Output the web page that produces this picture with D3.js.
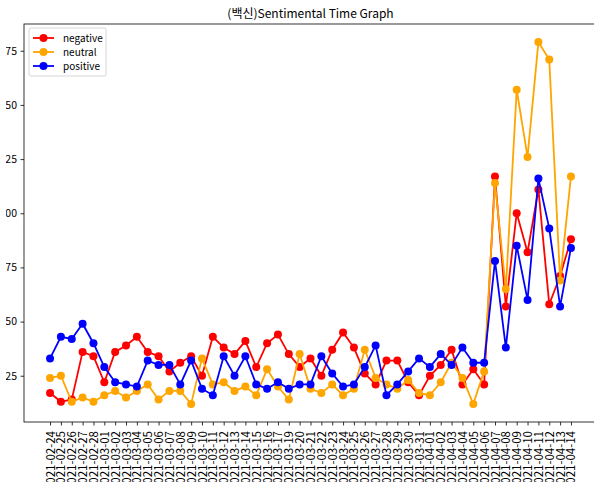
<!DOCTYPE html>
<html>
<head>
    <meta charset="utf-8">
    <title>sentimental_time_graph</title>
    <script src="https://d3js.org/d3.v7.min.js"></script>
    <style>
        body { margin: 0; background: #fff; }
        text { font-family: "Noto Sans CJK KR", "Noto Sans", sans-serif; fill: #000; }
    </style>
</head>
<body>
    <svg width="594" height="482"></svg>
    <script>
        // Dates on the x axis (03-18 is missing in the source)
        var dates = [
            "2021-02-24", "2021-02-25", "2021-02-26", "2021-02-27", "2021-02-28",
            "2021-03-01", "2021-03-02", "2021-03-03", "2021-03-04", "2021-03-05",
            "2021-03-06", "2021-03-07", "2021-03-08", "2021-03-09", "2021-03-10",
            "2021-03-11", "2021-03-12", "2021-03-13", "2021-03-14", "2021-03-15",
            "2021-03-16", "2021-03-17", "2021-03-19", "2021-03-20", "2021-03-21",
            "2021-03-22", "2021-03-23", "2021-03-24", "2021-03-25", "2021-03-26",
            "2021-03-27", "2021-03-28", "2021-03-29", "2021-03-30", "2021-03-31",
            "2021-04-01", "2021-04-02", "2021-04-03", "2021-04-04", "2021-04-05",
            "2021-04-06", "2021-04-07", "2021-04-08", "2021-04-09", "2021-04-10",
            "2021-04-11", "2021-04-12", "2021-04-13", "2021-04-14"
        ];

        // Counts per sentiment
        var negative = [17, 13, 14, 36, 34, 22, 36, 39, 43, 36, 34, 27, 31, 34, 25, 43, 38, 35, 41, 29,
                        40, 44, 35, 29, 33, 25, 37, 45, 38, 26, 21, 32, 32, 22, 16, 25, 30, 37, 21, 28,
                        21, 117, 57, 100, 82, 111, 58, 71, 88];
        var neutral = [24, 25, 13, 15, 13, 16, 18, 15, 18, 21, 14, 18, 18, 12, 33, 21, 22, 18, 20, 16,
                       28, 20, 14, 35, 19, 17, 21, 16, 19, 37, 24, 21, 19, 23, 17, 16, 22, 31, 24, 12,
                       27, 114, 65, 157, 126, 179, 171, 69, 117];
        var positive = [33, 43, 42, 49, 40, 29, 22, 21, 20, 32, 30, 30, 21, 32, 19, 16, 34, 25, 34, 21,
                        19, 22, 19, 21, 21, 34, 26, 20, 21, 29, 39, 16, 21, 27, 33, 29, 35, 30, 38, 31,
                        31, 78, 38, 85, 60, 116, 93, 57, 84];

        var yTicks = [25, 50, 75, 100, 125, 150, 175];
        var title = "(백신)Sentimental Time Graph";

        var series = [
            { name: "negative", values: negative, color: "red" },
            { name: "neutral", values: neutral, color: "orange" },
            { name: "positive", values: positive, color: "blue" }
        ];

        // Plot area (the source image is cropped on the left, right and bottom)
        var margin = { left: 24, top: 24, right: 597, bottom: 422 };

        var svg = d3.select("svg");

        // matplotlib-like 5% padding on both axes
        var n = dates.length - 1;
        var x = d3.scaleLinear()
            .domain([-0.05 * n, n + 0.05 * n])
            .range([margin.left, margin.right]);

        var all = negative.concat(neutral, positive);
        var yMin = d3.min(all), yMax = d3.max(all);
        var pad = (yMax - yMin) * 0.05;
        var y = d3.scaleLinear()
            .domain([yMin - pad, yMax + pad])
            .range([margin.bottom, margin.top]);

        // Clip that mimics the crop of the left edge (in the y axis group's coordinates)
        svg.append("clipPath").attr("id", "crop")
            .append("rect").attr("x", 6 - margin.left).attr("y", 0).attr("width", 600).attr("height", 482);

        // x axis with a tick for every date
        var xAxis = d3.axisBottom(x)
            .tickValues(d3.range(dates.length))
            .tickFormat(function(i) { return dates[i]; })
            .tickSize(3.5)
            .tickPadding(3.5);

        var gx = svg.append("g")
            .attr("transform", "translate(0," + margin.bottom + ")")
            .call(xAxis);
        gx.select(".domain").remove();
        gx.selectAll("line").attr("stroke", "#000").attr("stroke-width", 0.8);
        gx.selectAll("text")
            .attr("font-size", 11.5)
            .attr("text-anchor", "end")
            .attr("transform", "rotate(-90)")
            .attr("x", -9)
            .attr("y", 0)
            .attr("dy", "0.35em");

        // y axis
        var yAxis = d3.axisLeft(y)
            .tickValues(yTicks)
            .tickSize(3.5)
            .tickPadding(3.5);

        var gy = svg.append("g")
            .attr("transform", "translate(" + margin.left + ",0)")
            .attr("clip-path", "url(#crop)")
            .call(yAxis);
        gy.select(".domain").remove();
        gy.selectAll("line").attr("stroke", "#000").attr("stroke-width", 0.8);
        gy.selectAll("text").attr("font-size", 10.5);

        // Frame
        svg.append("rect")
            .attr("x", margin.left)
            .attr("y", margin.top)
            .attr("width", margin.right - margin.left)
            .attr("height", margin.bottom - margin.top)
            .attr("fill", "none")
            .attr("stroke", "#000")
            .attr("stroke-width", 0.8);

        // Lines and markers
        var line = d3.line()
            .x(function(d, i) { return x(i); })
            .y(function(d) { return y(d); });

        series.forEach(function(s) {
            var g = svg.append("g");
            g.append("path")
                .datum(s.values)
                .attr("d", line)
                .attr("fill", "none")
                .attr("stroke", s.color)
                .attr("stroke-width", 1.8);
            g.selectAll("circle")
                .data(s.values)
                .enter()
                .append("circle")
                .attr("cx", function(d, i) { return x(i); })
                .attr("cy", function(d) { return y(d); })
                .attr("r", 4)
                .attr("fill", s.color);
        });

        // Title
        svg.append("text")
            .attr("x", (margin.left + margin.right) / 2)
            .attr("y", 18)
            .attr("text-anchor", "middle")
            .attr("font-size", 12)
            .text(title);

        // Legend
        var legend = svg.append("g").attr("transform", "translate(29,28)");
        legend.append("rect")
            .attr("width", 77)
            .attr("height", 48)
            .attr("rx", 2)
            .attr("fill", "#fff")
            .attr("fill-opacity", 0.8)
            .attr("stroke", "#ccc")
            .attr("stroke-width", 0.8);

        var items = legend.selectAll(".item")
            .data(series)
            .enter()
            .append("g")
            .attr("transform", function(d, i) { return "translate(0," + (10 + i * 14) + ")"; });
        items.append("line")
            .attr("x1", 4).attr("x2", 25)
            .attr("stroke", function(d) { return d.color; })
            .attr("stroke-width", 1.8);
        items.append("circle")
            .attr("cx", 14.5)
            .attr("r", 4)
            .attr("fill", function(d) { return d.color; });
        items.append("text")
            .attr("x", 34)
            .attr("dy", "0.35em")
            .attr("font-size", 10)
            .text(function(d) { return d.name; });
    </script>
</body>
</html>
